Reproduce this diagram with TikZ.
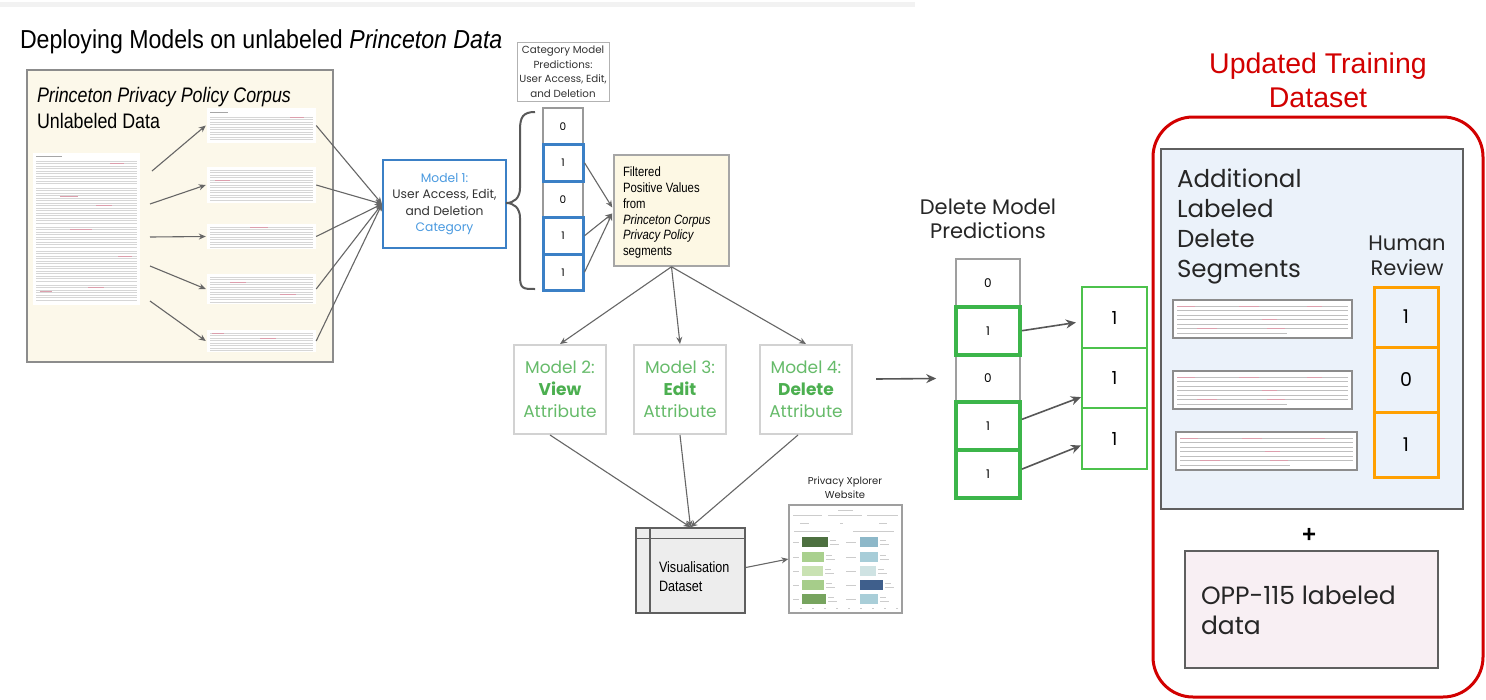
\documentclass[tikz,border=0pt]{standalone}
\usepackage{fontspec}
\setmainfont{Liberation Sans}
\newfontfamily\pop{Poppins}
\usetikzlibrary{arrows.meta,calc}
\definecolor{cream}{HTML}{FCF8EA}
\definecolor{creamb}{HTML}{FDF8E4}
\definecolor{bordg}{HTML}{8C8C8C}
\definecolor{arrg}{HTML}{666666}
\definecolor{mblue}{HTML}{3B80C6}
\definecolor{tblue}{HTML}{4A9AE0}
\definecolor{mgreen}{HTML}{66BB6A}
\definecolor{mgreenb}{HTML}{4CAF50}
\definecolor{dgreen}{HTML}{3CB54A}
\definecolor{lgreen}{HTML}{4CC24C}
\definecolor{myred}{HTML}{D20000}
\definecolor{myorange}{HTML}{FFA000}
\definecolor{bluefill}{HTML}{EBF2FA}
\definecolor{pinkfill}{HTML}{F8EFF3}
\definecolor{darkbord}{HTML}{5F5F5F}
\definecolor{docred}{HTML}{C0506A}
\definecolor{barA}{HTML}{4D7040}
\definecolor{barB}{HTML}{A9D08E}
\definecolor{barC}{HTML}{C9E2B3}
\definecolor{barD}{HTML}{A6CD8A}
\definecolor{barE}{HTML}{77A45F}
\definecolor{barF}{HTML}{8DB8C9}
\definecolor{barG}{HTML}{A7CDD8}
\definecolor{barH}{HTML}{CFE3E3}
\definecolor{barI}{HTML}{3F5F8C}
\definecolor{barJ}{HTML}{A9CED8}
\tikzset{
  arr/.style={draw=arrg, line width=1.1pt, -{Stealth[length=7pt,width=6pt]}},
  arrd/.style={draw=arrg!85!black, line width=1.6pt, -{Stealth[length=10pt,width=9pt]}},
  docline/.style={draw=gray!32, line width=0.6pt},
  docred/.style={draw=docred!55, line width=0.6pt},
  dochead/.style={draw=gray!70, line width=1pt},
  thumb/.style={fill=white, draw=none, inner sep=0pt},
  segbox/.style={fill=white, draw=bordg, line width=1.5pt, inner sep=0pt, minimum width=179pt, minimum height=38pt},
  cellg/.style={draw=gray!80, line width=1.2pt, inner sep=0pt, minimum width=40pt, minimum height=36.5pt, font=\pop\fontsize{10.5}{12}\selectfont},
  cellb/.style={cellg, draw=mblue, line width=3pt},
  dcellg/.style={draw=gray!75, line width=1.5pt, inner sep=0pt, minimum width=64pt, minimum height=47.8pt, font=\pop\fontsize{12}{14}\selectfont},
  dcellb/.style={dcellg, draw=dgreen, line width=4pt},
  gcell/.style={draw=lgreen, line width=2.2pt, inner sep=0pt, minimum width=65pt, font=\pop\fontsize{18}{20}\selectfont},
  ocell/.style={draw=myorange, line width=3pt, inner sep=0pt, minimum width=64pt, font=\pop\fontsize{19}{20}\selectfont},
  mbox/.style={draw=gray!35, line width=2pt, fill=white, minimum width=92pt, minimum height=89pt, inner sep=0pt, align=center, text=mgreen, font=\pop\fontsize{17}{22}\selectfont},
  lab/.style={inner sep=0pt, outer sep=0pt},
}
\newcommand{\doclines}[5]{\foreach \yy in {#3,#4,...,#5}{\draw[docline] (#1,\yy) -- (#2,\yy);}}
\begin{document}
\begin{tikzpicture}[x=1pt,y=-1pt]
\useasboundingbox (0,0) rectangle (1486,699);
\fill[white] (0,0) rectangle (1486,699);
\fill[gray!10] (0,2) rectangle (915,7);

% ---------- title ----------
\node[lab, anchor=base west, xscale=0.89, font=\fontsize{26}{30}\selectfont] (title) at (20,48) {Deploying Models on unlabeled \textit{Princeton Data}};

% ---------- corpus box ----------
\node[draw=bordg, line width=1.5pt, fill=cream, minimum width=306pt, minimum height=292pt, inner sep=0pt] (corpus) at (180,216) {};
\node[lab, anchor=base west, xscale=0.85, font=\fontsize{21}{24}\selectfont\itshape] (ctitle) at (37,102) {Princeton Privacy Policy Corpus};
\node[lab, anchor=base west, xscale=0.85, font=\fontsize{21}{24}\selectfont] (csub) at (37,128) {Unlabeled Data};

% left document
\node[thumb, minimum width=107pt, minimum height=152pt] (lt) at (86.5,229) {};
\draw[dochead] (36,156.5) -- (62,156.5);
\doclines{36}{137}{161}{163.5}{183.5}
\doclines{36}{137}{188}{190.5}{223}
\doclines{36}{137}{227}{229.5}{247}
\doclines{36}{137}{251}{253.5}{281}
\doclines{36}{137}{285}{287.5}{300}
\draw[docred] (110,163.5)--(124,163.5) (60,196)--(78,196) (96,205.5)--(112,205.5) (70,229.5)--(92,229.5) (40,291.5)--(52,291.5) (88,287.5)--(104,287.5) (118,256)--(132,256);

% right documents
\node[thumb, minimum width=109pt, minimum height=35pt] (r1) at (261.5,125.5) {};
\draw[dochead] (210,112) -- (228,112);
\doclines{210}{313}{117}{119.5}{139.5}
\node[thumb, minimum width=109pt, minimum height=36pt] (r2) at (261.5,185) {};
\doclines{210}{313}{170}{172.5}{200}
\node[thumb, minimum width=109pt, minimum height=25pt] (r3) at (261.5,236.5) {};
\doclines{210}{313}{227}{229.5}{247}
\node[thumb, minimum width=109pt, minimum height=30pt] (r4) at (261.5,289) {};
\doclines{210}{313}{277}{279.5}{302}
\node[thumb, minimum width=109pt, minimum height=22pt] (r5) at (261.5,341) {};
\doclines{210}{313}{333}{335.5}{350.5}
\draw[docred] (290,117)--(304,117) (215,180)--(230,180) (250,227)--(268,227) (230,282)--(246,282) (280,294.5)--(296,294.5) (212,333)--(224,333) (260,338)--(276,338);

% arrows inside corpus
\coordinate (s1) at (152,171);
\coordinate (s2) at (150,204);
\coordinate (s3) at (150,237);
\coordinate (s4) at (150,266);
\coordinate (s5) at (150,301);
\draw[arr] (s1) -- ([xshift=-1pt]r1.west);
\draw[arr] (s2) -- ([xshift=-1pt]r2.west);
\draw[arr] (s3) -- ([xshift=-1pt]r3.west);
\draw[arr] (s4) -- ([xshift=-1pt]r4.west);
\draw[arr] (s5) -- ([xshift=-1pt]r5.west);

% ---------- model 1 ----------
\node[draw=mblue, line width=2pt, fill=white, minimum width=123pt, minimum height=88pt, inner sep=0pt, align=center, font=\pop\fontsize{12.3}{16.3}\selectfont, text=black!80] (m1) at (444.5,204) {\textcolor{tblue}{Model 1:}\\User Access, Edit,\\and Deletion\\\textcolor{tblue}{Category}};
\foreach \r in {r1,r2,r3,r4,r5} \draw[arr] (\r.east) -- (m1.west);

% brace
\draw[draw=gray!70!black, line width=2pt] (535,112) .. controls (523,112) and (520,117) .. (520,130) -- (520,188) .. controls (520,198) and (514,203) .. (506,203) .. controls (514,203) and (520,208) .. (520,218) -- (520,276) .. controls (520,289) and (523,289) .. (535,289);

% category predictions label
\node[draw=gray!60, line width=1pt, fill=white, minimum width=92pt, minimum height=59pt, inner sep=0pt, align=center, font=\pop\fontsize{10.3}{14.5}\selectfont, text=black!80] (catlab) at (563,71.5) {Category Model\\Predictions:\\User Access, Edit,\\and Deletion};

% category cells
\node[cellg] (c1) at (563,126.25) {0};
\node[cellg] (c3) at (563,199.25) {0};
\node[cellb] (c2) at (563,162.75) {1};
\node[cellb] (c4) at (563,235.75) {1};
\node[cellb] (c5) at (563,272.25) {1};

% filtered box
\node[draw=gray!70, line width=1.5pt, fill=creamb, minimum width=115pt, minimum height=111pt, inner sep=0pt] (filt) at (671.5,210.5) {};
\begin{scope}[every node/.style={lab, anchor=base west, xscale=0.84, font=\fontsize{13.5}{16}\selectfont}]
\node (f1) at (623,176.7) {Filtered};
\node (f2) at (623,192.5) {Positive Values};
\node (f3) at (623,208.3) {from};
\node (f4) at (623,224.1) {\itshape Princeton Corpus};
\node (f5) at (623,239.9) {\itshape Privacy Policy};
\node (f6) at (623,255.7) {segments};
\end{scope}
\draw[arr] (c2.east) -- ([xshift=-1pt,yshift=3pt]filt.west);
\draw[arr] (c4.east) -- ([xshift=-1pt,yshift=-3pt]filt.west);
\draw[arr] (c5.east) -- ([xshift=-1pt,yshift=-3pt]filt.west);

% models 2-4
\node[mbox] (m2) at (560,389.5) {Model 2:\\\textbf{\textcolor{mgreenb}{View}}\\Attribute};
\node[mbox] (m3) at (680,389.5) {Model 3:\\\textbf{\textcolor{mgreenb}{Edit}}\\Attribute};
\node[mbox] (m4) at (806,389.5) {Model 4:\\\textbf{\textcolor{mgreenb}{Delete}}\\Attribute};
\draw[arr] (filt.south) -- (m2.north);
\draw[arr] (filt.south) -- (m3.north);
\draw[arr] (filt.south) -- (m4.north);

% visualisation dataset
\node[draw=darkbord, line width=1.5pt, fill=gray!14, minimum width=109pt, minimum height=85pt, inner sep=0pt] (vis) at (690.5,570.5) {};
\draw[darkbord, line width=1.2pt] (636,538.5) -- (745,538.5) (650,528) -- (650,613);
\node[lab, anchor=west, align=left, xscale=0.84, font=\fontsize{15}{19}\selectfont] (vistext) at (659,576.5) {Visualisation\\Dataset};
\draw[arr] ([xshift=-10pt]m2.south) -- (vis.north);
\draw[arr] (m3.south) -- (vis.north);
\draw[arr] ([xshift=-8pt]m4.south) -- (vis.north);

% website
\node[lab, align=center, font=\pop\fontsize{10}{14}\selectfont, text=black!85] (weblab) at (845,488) {Privacy Xplorer\\Website};
\node[draw=gray!75, line width=1.2pt, fill=white, minimum width=113pt, minimum height=108pt, inner sep=0pt] (web) at (845.5,559) {};
\draw[arr] ([yshift=3pt]vis.east) -- ([yshift=0pt]web.west);
\begin{scope}[line width=0.6pt, draw=gray!40]
\draw (838,510)--(853,510);
\draw (793,515)--(822,515) (828,515)--(862,515) (867,515)--(898,515);
\draw (800,523)--(809,523) (840,523)--(843,523) (879,523)--(887,523);
\draw (794,531)--(830,531) (853,531)--(894,531);
\foreach \yy in {542,557,571,585,599} {\draw (793,\yy)--(799,\yy) (846,\yy)--(856,\yy);}
\foreach \yy/\xa/\xb in {542/828/878,557/824/878,571/823/876,585/824/883,599/826/878} {\draw (\xa+2,\yy-2)--(\xa+8,\yy-2) (\xa+2,\yy+2)--(\xa+11,\yy+2) (\xb+2,\yy-2)--(\xb+8,\yy-2) (\xb+2,\yy+2)--(\xb+11,\yy+2);}
\foreach \xx in {800,812,824,836,848,860,872,884,896} {\draw (\xx,608)--(\xx+2,608);}
\end{scope}
\fill[barA] (802,537) rectangle (828,547);
\fill[barB] (802,552) rectangle (824,562);
\fill[barC] (802,566) rectangle (823,576);
\fill[barD] (802,580) rectangle (824,590);
\fill[barE] (802,594) rectangle (826,604);
\fill[barF] (860,537) rectangle (878,547);
\fill[barG] (860,552) rectangle (878,562);
\fill[barH] (860,566) rectangle (876,576);
\fill[barI] (860,580) rectangle (883,590);
\fill[barJ] (860,594) rectangle (878,604);

% ---------- delete predictions ----------
\node[lab, align=center, font=\pop\fontsize{21}{24}\selectfont, text=black!85] (dlab) at (988,219) {Delete Model\\Predictions};
\node[dcellg] (d1) at (988,282.9) {0};
\node[dcellg] (d3) at (988,378.5) {0};
\node[dcellb] (d2) at (988,330.7) {1};
\node[dcellb] (d4) at (988,426.3) {1};
\node[dcellb] (d5) at (988,474.1) {1};
\coordinate (ain) at (876,379);
\draw[arrd] (ain) -- ([xshift=-19pt]d3.west);

\node[gcell, minimum height=61pt] (g1) at (1114.5,317.5) {1};
\node[gcell, minimum height=60pt] (g2) at (1114.5,378) {1};
\node[gcell, minimum height=61pt] (g3) at (1114.5,438.5) {1};
\draw[arrd] (d2.east) -- ([xshift=-5pt,yshift=-5pt]g1.west);
\draw[arrd] ([yshift=7pt]d4.east) -- ([yshift=12pt]g2.south west);
\draw[arrd] ([yshift=5pt]d5.east) -- ([yshift=-7pt]g3.west);

% ---------- updated training dataset ----------
\node[lab, align=center, font=\fontsize{28.5}{34}\selectfont, text=myred] (utitle) at (1318,80) {Updated Training\\Dataset};
\node[draw=myred, line width=3pt, rounded corners=40pt, minimum width=330pt, minimum height=580pt, inner sep=0pt] (redbox) at (1318,407) {};
\node[draw=darkbord, line width=2pt, fill=bluefill, minimum width=302pt, minimum height=360pt, inner sep=0pt] (bluebox) at (1312,329) {};
\node[lab, anchor=west, align=left, font=\pop\fontsize{24.5}{30}\selectfont, text=black!85] (addl) at (1177,226) {Additional\\Labeled\\Delete\\Segments};
\node[lab, align=center, font=\pop\fontsize{21}{25}\selectfont, text=black!85] (hrev) at (1407,256) {Human\\Review};
\node[ocell, minimum height=60pt] (o1) at (1406,317) {1};
\node[ocell, minimum height=65pt] (o2) at (1406,379.5) {0};
\node[ocell, minimum height=65pt] (o3) at (1406,444.5) {1};

\node[segbox] (sg1) at (1262.5,319) {};
\node[segbox] (sg2) at (1262.5,390) {};
\node[segbox, minimum width=181pt] (sg3) at (1266.5,451) {};
\foreach \yt/\xl/\xr in {300/1177/1348, 371/1177/1348, 432/1180/1353} {
  \foreach \k in {6,10.5,15,19.5,24,28.5} {\draw[draw=gray!50, line width=0.7pt] (\xl,\yt+\k) -- (\xr,\yt+\k);}
  \draw[draw=gray!50, line width=0.7pt] (\xl,\yt+33) -- (\xl+110,\yt+33);
  \draw[docred] (\xl,\yt+6)--(\xl+18,\yt+6) (\xl+62,\yt+6)--(\xl+82,\yt+6) (\xl+130,\yt+6)--(\xl+145,\yt+6) (\xl+85,\yt+19.5)--(\xl+100,\yt+19.5) (\xl+20,\yt+28.5)--(\xl+40,\yt+28.5) (\xl+90,\yt+28.5)--(\xl+108,\yt+28.5);
}

\node[lab, font=\fontsize{24}{24}\selectfont\bfseries] (plus) at (1309,535) {+};
\node[draw=darkbord, line width=2pt, fill=pinkfill, minimum width=253pt, minimum height=117pt, inner sep=0pt] (opp) at (1311.5,609.5) {};
\node[lab, anchor=west, align=left, font=\pop\fontsize{25}{30}\selectfont, text=black!85] (opptext) at (1201,610) {OPP-115 labeled\\data};
\end{tikzpicture}
\end{document}
